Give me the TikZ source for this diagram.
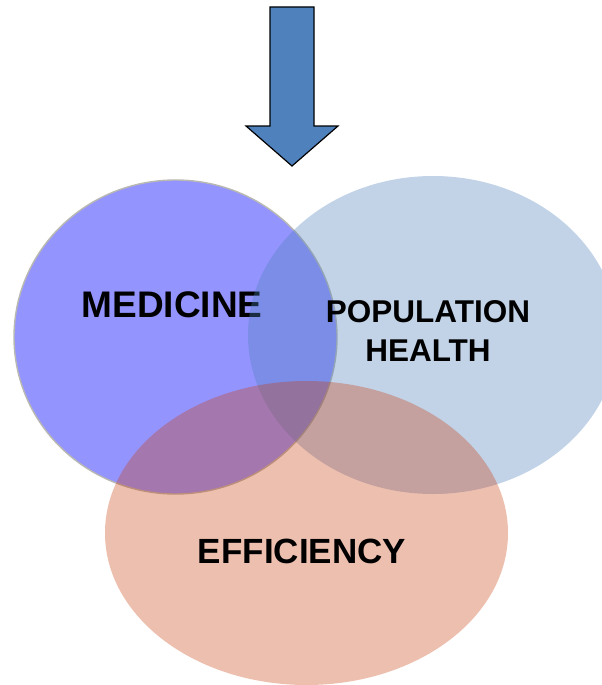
\documentclass[tikz,border=0pt]{standalone}
\usepackage{fontspec}
\setmainfont{Liberation Sans}
\definecolor{medblue}{RGB}{148,148,255}
\definecolor{medline}{RGB}{185,185,178}
\definecolor{popblue}{RGB}{79,129,189}
\definecolor{effred}{RGB}{200,59,7}
\definecolor{arrowblue}{RGB}{79,129,189}
\tikzset{
  lbl/.style={font=\bfseries, text=black, align=center, inner sep=0pt},
}
\begin{document}
\begin{tikzpicture}[x=1pt,y=-1pt]
\useasboundingbox (0,0) rectangle (602,685);
\clip (0,0) rectangle (602,685);
% arrow
\draw[fill=arrowblue, draw=black, line width=1.2pt, line join=miter]
  (270,7) -- (314,7) -- (314,126) -- (338,126) -- (292,166) -- (246,126) -- (270,126) -- cycle;
% medicine
\fill[medblue] (175.5,337) ellipse [x radius=161.5, y radius=157];
\draw[medline, line width=1.4pt] (175.5,337) ellipse [x radius=161.5, y radius=157];
\node[lbl, font=\fontsize{37}{40}\selectfont\bfseries, anchor=base] (med) at (172,317) {MEDICINE};
% population health
\fill[popblue, fill opacity=0.35] (433,335) ellipse [x radius=185, y radius=159];
\node[lbl, font=\fontsize{31.5}{38.4}\selectfont\bfseries, anchor=base] (pop) at (428,361) {POPULATION\\HEALTH};
% efficiency
\fill[effred, fill opacity=0.327] (306.5,533) ellipse [x radius=201.5, y radius=152];
\node[lbl, font=\fontsize{35}{40}\selectfont\bfseries, anchor=base] (eff) at (302,563.5) {EFFICIENCY};
\end{tikzpicture}
\end{document}
